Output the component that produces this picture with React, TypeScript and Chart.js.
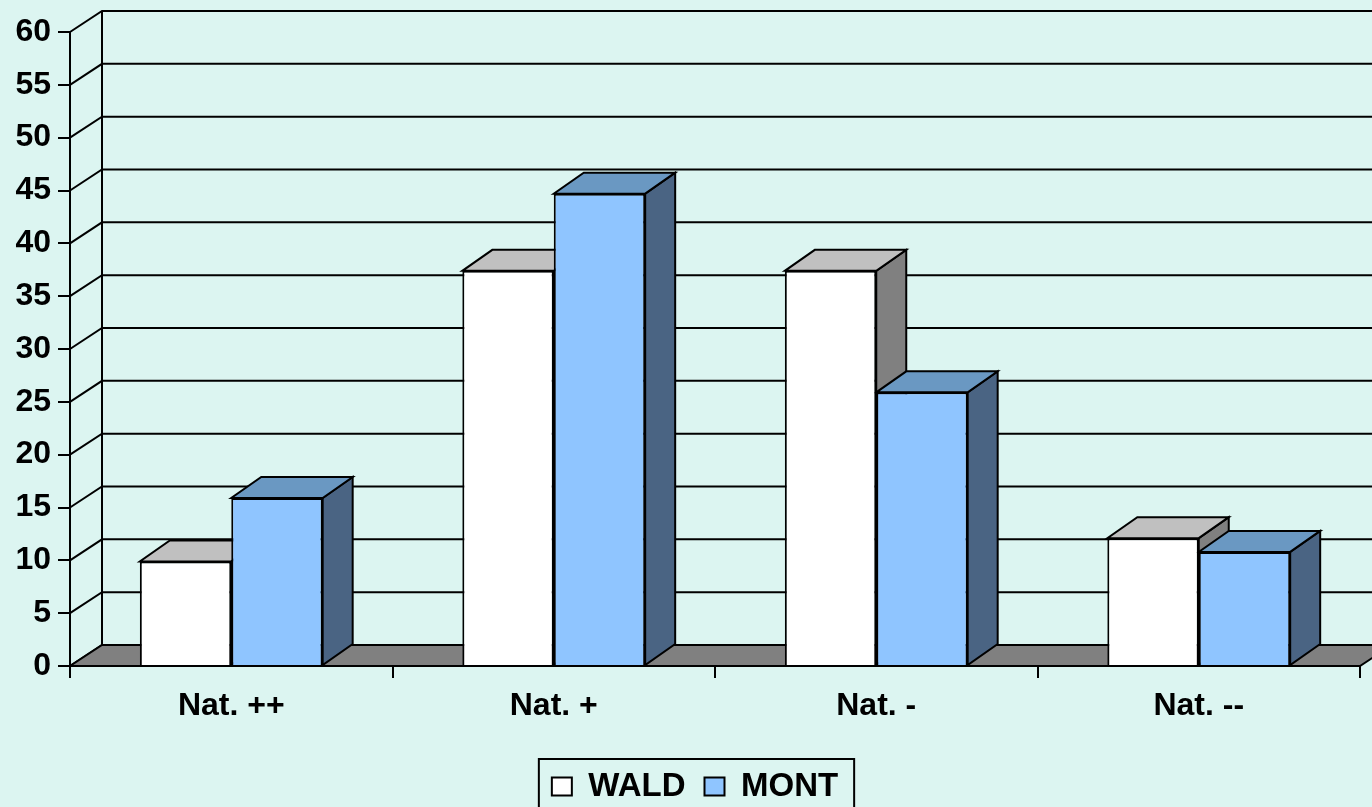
import React, { useEffect, useRef } from "react";
import { Chart, registerables } from "chart.js";

Chart.register(...registerables);

const categories = ["Nat. ++", "Nat. +", "Nat. -", "Nat. --"];
const waldValues = [9.9, 37.4, 37.4, 12.1];
const montValues = [15.9, 44.7, 25.9, 10.8];
const seriesNames = ["WALD", "MONT"];
const yMin = 0;
const yMax = 60;
const yStep = 5;

const BG = "#DCF5F1";
const FONT = "'Liberation Sans', Arial, sans-serif";

const faceColors = [
  { front: "#FFFFFF", top: "#C0C0C0", side: "#808080" },
  { front: "#8FC5FF", top: "#6A98C2", side: "#4A6483" },
];

const BAR_DX = 30;
const BAR_DY = -21;
const WALL_DX = 32;
const WALL_DY = -21;
const LEGEND_SHIFT = 15;

const poly = (ctx: CanvasRenderingContext2D, pts: number[][], fill: string | null, stroke: string, lw: number) => {
  ctx.beginPath();
  ctx.moveTo(pts[0][0], pts[0][1]);
  for (let i = 1; i < pts.length; i++) ctx.lineTo(pts[i][0], pts[i][1]);
  ctx.closePath();
  if (fill) {
    ctx.fillStyle = fill;
    ctx.fill();
  }
  ctx.strokeStyle = stroke;
  ctx.lineWidth = lw;
  ctx.lineJoin = "miter";
  ctx.stroke();
};

const threeDPlugin = {
  id: "threeD",
  afterUpdate(chart: any) {
    const lg = chart.legend;
    if (!lg) return;
    lg.left += LEGEND_SHIFT;
    lg.right += LEGEND_SHIFT;
    (lg.legendHitBoxes || []).forEach((h: any) => {
      h.left += LEGEND_SHIFT;
    });
  },
  beforeDraw(chart: any) {
    const ctx = chart.ctx;
    ctx.save();
    ctx.fillStyle = BG;
    ctx.fillRect(0, 0, chart.width, chart.height);
    ctx.restore();
  },
  beforeDatasetsDraw(chart: any) {
    const ctx: CanvasRenderingContext2D = chart.ctx;
    const { left, right, top, bottom } = chart.chartArea;
    const yScale = chart.scales.y;
    ctx.save();
    ctx.strokeStyle = "#000";
    ctx.lineWidth = 2;
    yScale.ticks.forEach((t: any) => {
      const y = yScale.getPixelForValue(t.value);
      ctx.beginPath();
      ctx.moveTo(left, y);
      ctx.lineTo(left + WALL_DX, y + WALL_DY);
      ctx.lineTo(chart.width + 5, y + WALL_DY);
      ctx.stroke();
    });
    ctx.beginPath();
    ctx.moveTo(left + WALL_DX, top + WALL_DY);
    ctx.lineTo(left + WALL_DX, bottom + WALL_DY);
    ctx.lineWidth = 2;
    ctx.stroke();
    poly(
      ctx,
      [
        [left, bottom],
        [right, bottom],
        [right + WALL_DX, bottom + WALL_DY],
        [left + WALL_DX, bottom + WALL_DY],
      ],
      "#808080",
      "#000",
      2
    );
    for (let d = 0; d < chart.data.datasets.length; d++) {
      const meta = chart.getDatasetMeta(d);
      const col = faceColors[d];
      meta.data.forEach((el: any) => {
        const p = el.getProps(["x", "y", "base", "width"], true);
        const l = p.x - p.width / 2;
        const r = p.x + p.width / 2;
        const yt = Math.min(p.y, p.base);
        const yb = Math.max(p.y, p.base);
        poly(
          ctx,
          [
            [r, yt],
            [r + BAR_DX, yt + BAR_DY],
            [r + BAR_DX, yb + BAR_DY],
            [r, yb],
          ],
          col.side,
          "#000",
          2
        );
        poly(
          ctx,
          [
            [l, yt],
            [r, yt],
            [r + BAR_DX, yt + BAR_DY],
            [l + BAR_DX, yt + BAR_DY],
          ],
          col.top,
          "#000",
          2
        );
      });
    }
    ctx.restore();
  },
  afterDraw(chart: any) {
    const lg = chart.legend;
    if (!lg || !lg.legendHitBoxes || !lg.legendHitBoxes.length) return;
    const hb = lg.legendHitBoxes;
    const first = hb[0];
    const last = hb[hb.length - 1];
    const ctx: CanvasRenderingContext2D = chart.ctx;
    ctx.save();
    ctx.strokeStyle = "#000";
    ctx.lineWidth = 2;
    const x0 = first.left - 13;
    const x1 = last.left + last.width + 16;
    const y0 = first.top - 11;
    ctx.strokeRect(x0, y0, x1 - x0, chart.height + 10 - y0);
    ctx.restore();
  },
};

export default function App() {
  const ref = useRef<HTMLCanvasElement | null>(null);

  useEffect(() => {
    document.body.style.margin = "0";
    document.body.style.background = BG;
    const canvas = ref.current;
    if (!canvas) return;
    const chart = new Chart(canvas, {
      type: "bar",
      data: {
        labels: categories,
        datasets: [
          {
            label: seriesNames[0],
            data: waldValues,
            backgroundColor: faceColors[0].front,
            borderColor: "#000",
            borderWidth: 2,
            categoryPercentage: 0.567,
            barPercentage: 1,
          },
          {
            label: seriesNames[1],
            data: montValues,
            backgroundColor: faceColors[1].front,
            borderColor: "#000",
            borderWidth: 2,
            categoryPercentage: 0.567,
            barPercentage: 1,
          },
        ],
      },
      plugins: [threeDPlugin],
      options: {
        responsive: false,
        animation: false,
        events: [],
        layout: { padding: { top: 32, right: 12, left: 0, bottom: -6 } },
        plugins: {
          title: { display: false },
          tooltip: { enabled: false },
          legend: {
            display: true,
            position: "bottom",
            labels: {
              boxWidth: 20,
              boxHeight: 18,
              padding: 19,
              color: "#000",
              font: { family: FONT, size: 33, weight: "bold" },
            },
          },
        },
        scales: {
          x: {
            offset: true,
            grid: {
              offset: true,
              drawOnChartArea: false,
              drawTicks: true,
              tickLength: 12,
              color: "#000",
              lineWidth: 2,
            },
            border: { display: true, color: "#000", width: 2 },
            ticks: {
              color: "#000",
              padding: 9,
              maxRotation: 0,
              font: { family: FONT, size: 32, weight: "bold" },
            },
            afterFit: (s: any) => {
              s.height = 85;
            },
          },
          y: {
            min: yMin,
            max: yMax,
            grid: {
              drawOnChartArea: false,
              drawTicks: true,
              tickLength: 12,
              color: "#000",
              lineWidth: 2,
            },
            border: { display: true, color: "#000", width: 2 },
            ticks: {
              stepSize: yStep,
              color: "#000",
              padding: 7,
              font: { family: FONT, size: 32, weight: "bold" },
            },
            afterFit: (s: any) => {
              s.width = 70;
            },
          },
        },
      },
    });
    return () => chart.destroy();
  }, []);

  return (
    <div style={{ position: "absolute", left: 0, top: 0, width: 1372, height: 807, background: BG }}>
      <canvas ref={ref} width={1372} height={807} style={{ display: "block", width: 1372, height: 807 }} />
    </div>
  );
}
